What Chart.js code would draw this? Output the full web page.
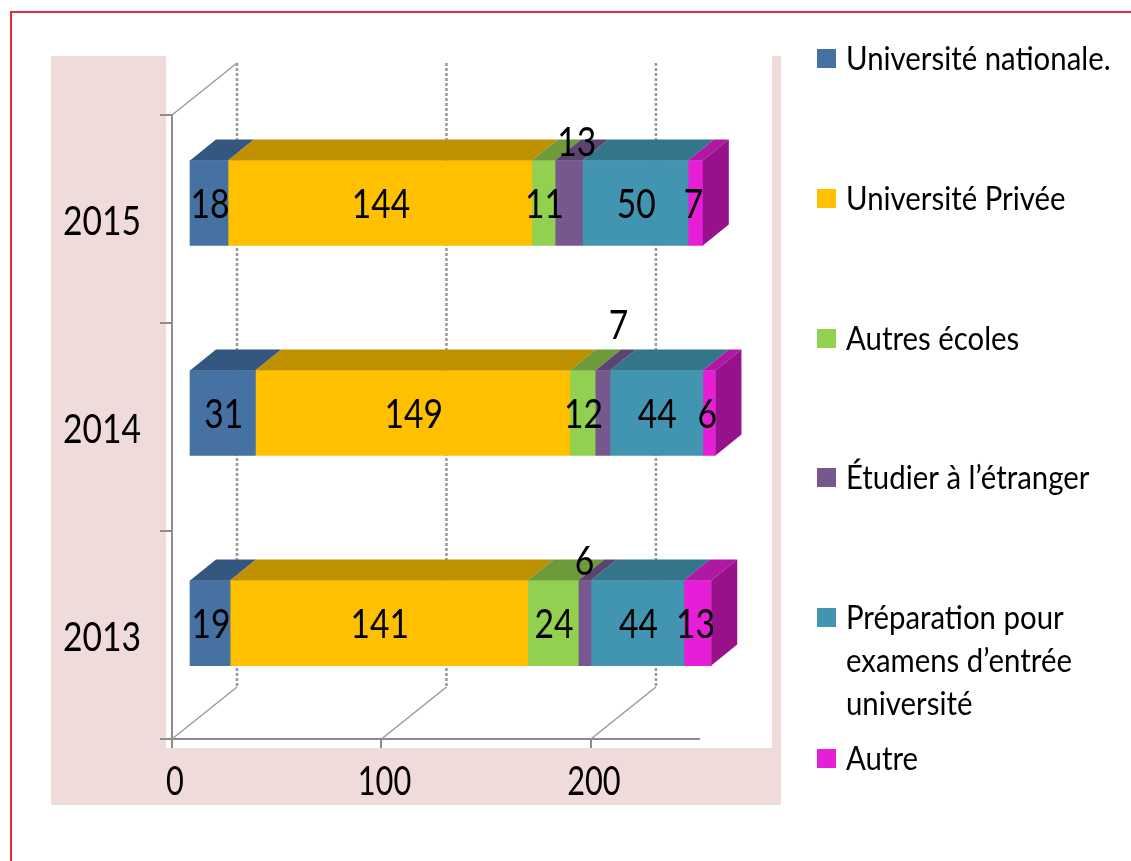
<!DOCTYPE html>
<html>
<head>
<meta charset="utf-8">
<script src="https://cdn.jsdelivr.net/npm/chart.js@4"></script>
<style>
    html, body { margin: 0; padding: 0; background: #fff; }
    #frame { position: absolute; left: 10px; top: 11px; width: 1121px; height: 850px; box-sizing: border-box; border-top: 2px solid #e2303a; border-left: 2px solid #e2303a; }
    #chart { position: absolute; left: 0; top: 0; }
</style>
</head>
<body>
<div id="frame"></div>
<canvas id="chart" width="1131" height="861"></canvas>
<script>
const categories = [2015, 2014, 2013];
const tickValues = [0, 100, 200];
const seriesNames = [
    ['Université nationale.'],
    ['Université Privée'],
    ['Autres écoles'],
    ['Étudier à l’étranger'],
    ['Préparation pour', 'examens d’entrée', 'université'],
    ['Autre']
];
const universiteNationale = [18, 31, 19];
const universitePrivee = [144, 149, 141];
const autresEcoles = [11, 12, 24];
const etudierEtranger = [13, 7, 6];
const preparation = [50, 44, 44];
const autre = [7, 6, 13];

const seriesValues = [universiteNationale, universitePrivee, autresEcoles, etudierEtranger, preparation, autre];
const frontColors = ['#4571a3', '#ffc000', '#92d050', '#76588f', '#4195b0', '#e61ed8'];
const topColors = ['#34577f', '#bf9000', '#6f9a3c', '#5c4470', '#33758a', '#ae18a3'];
const sideColor = '#96118a';

const FONT = 'Lato, "Open Sans", sans-serif';
const DEPTH_X = 26, DEPTH_Y = 21;   // profondeur des barres
const WALL_X = 65, WALL_Y = 52;     // profondeur du mur du fond

// decalage des etiquettes par serie / annee (les petites passent au dessus)
function labelNudge(datasetIndex, index) {
    if (datasetIndex === 3) return [[8, -60], [16, -87], [0, -61]][index];
    if (datasetIndex === 5) return [-2, 2];
    return [1, 2];
}

// texte un peu comprime en largeur, la police d'origine est etroite
function narrowText(ctx, text, x, y, squeeze) {
    ctx.save();
    ctx.translate(x, y);
    ctx.scale(squeeze, 1);
    ctx.fillText(text, 0, 0);
    ctx.restore();
}

const panelPlugin = {
    id: 'panel',
    beforeDraw(chart) {
        const ctx = chart.ctx;
        ctx.save();
        ctx.fillStyle = '#f0dbdb';
        ctx.fillRect(51, 56, 730, 749);
        ctx.fillStyle = '#fff';
        ctx.fillRect(166, 56, 606, 692);
        ctx.restore();
    }
};

const wallPlugin = {
    id: 'wall',
    beforeDatasetsDraw(chart) {
        const ctx = chart.ctx;
        const x = chart.scales.x;
        const top = chart.chartArea.top, bottom = chart.chartArea.bottom;
        ctx.save();
        ctx.strokeStyle = '#999';
        ctx.lineWidth = 1.5;
        // lignes du sol + coin haut gauche
        tickValues.forEach(v => {
            const px = x.getPixelForValue(v);
            ctx.beginPath();
            ctx.moveTo(px, bottom);
            ctx.lineTo(px + WALL_X, bottom - WALL_Y);
            ctx.stroke();
        });
        ctx.beginPath();
        ctx.moveTo(x.getPixelForValue(0), top);
        ctx.lineTo(x.getPixelForValue(0) + WALL_X, top - WALL_Y);
        ctx.stroke();
        // grille verticale du fond
        ctx.lineWidth = 2.5;
        ctx.setLineDash([3, 2]);
        tickValues.forEach(v => {
            const px = x.getPixelForValue(v) + WALL_X;
            ctx.beginPath();
            ctx.moveTo(px, top - WALL_Y);
            ctx.lineTo(px, bottom - WALL_Y);
            ctx.stroke();
        });
        ctx.restore();
    }
};

const depthPlugin = {
    id: 'depth',
    afterDatasetsDraw(chart) {
        const ctx = chart.ctx;
        ctx.save();
        chart.data.datasets.forEach((ds, i) => {
            chart.getDatasetMeta(i).data.forEach(bar => {
                const left = bar.base, right = bar.x;
                const t = bar.y - bar.height / 2, b = bar.y + bar.height / 2;
                ctx.fillStyle = topColors[i];
                ctx.beginPath();
                ctx.moveTo(left, t);
                ctx.lineTo(left + DEPTH_X, t - DEPTH_Y);
                ctx.lineTo(right + DEPTH_X, t - DEPTH_Y);
                ctx.lineTo(right, t);
                ctx.closePath();
                ctx.fill();
                if (i === chart.data.datasets.length - 1) {
                    ctx.fillStyle = sideColor;
                    ctx.beginPath();
                    ctx.moveTo(right, t);
                    ctx.lineTo(right + DEPTH_X, t - DEPTH_Y);
                    ctx.lineTo(right + DEPTH_X, b - DEPTH_Y);
                    ctx.lineTo(right, b);
                    ctx.closePath();
                    ctx.fill();
                }
            });
        });
        // etiquettes des valeurs
        ctx.fillStyle = '#000';
        ctx.font = '41px ' + FONT;
        ctx.textAlign = 'center';
        ctx.textBaseline = 'middle';
        chart.data.datasets.forEach((ds, i) => {
            chart.getDatasetMeta(i).data.forEach((bar, j) => {
                const nudge = labelNudge(i, j);
                narrowText(ctx, String(ds.data[j]), (bar.base + bar.x) / 2 + nudge[0], bar.y + nudge[1], 0.82);
            });
        });
        ctx.restore();
    }
};

const tickLabelPlugin = {
    id: 'tickLabels',
    afterDraw(chart) {
        const ctx = chart.ctx;
        const { x, y } = chart.scales;
        ctx.save();
        ctx.fillStyle = '#000';
        ctx.font = '41px ' + FONT;
        ctx.textBaseline = 'middle';
        ctx.textAlign = 'center';
        x.ticks.forEach((tick, i) => {
            narrowText(ctx, String(tick.value), x.getPixelForTick(i) + 3, 782, 0.75);
        });
        ctx.textAlign = 'right';
        y.ticks.forEach((tick, i) => {
            narrowText(ctx, tick.label, 141, y.getPixelForTick(i) + 3, 0.82);
        });
        ctx.restore();
    }
};

const sideLegendPlugin = {
    id: 'sideLegend',
    afterDraw(chart) {
        const ctx = chart.ctx;
        const rowY = [59, 199, 339, 478, 618, 759];
        ctx.save();
        ctx.font = '33px ' + FONT;
        ctx.textAlign = 'left';
        ctx.textBaseline = 'middle';
        seriesNames.forEach((lines, i) => {
            ctx.fillStyle = frontColors[i];
            ctx.fillRect(817, rowY[i] - 10, 19, 19);
            ctx.fillStyle = '#000';
            lines.forEach((line, k) => narrowText(ctx, line, 846, rowY[i] + k * 43, 0.89));
        });
        ctx.restore();
    }
};

new Chart(document.getElementById('chart').getContext('2d'), {
    type: 'bar',
    data: {
        labels: categories,
        datasets: seriesValues.map((values, i) => ({
            label: seriesNames[i].join(' '),
            data: values,
            backgroundColor: frontColors[i],
            xAxisID: 'xBar',
            yAxisID: 'yBar',
            barThickness: 85,
            clip: false
        }))
    },
    options: {
        indexAxis: 'y',
        responsive: false,
        animation: false,
        layout: { padding: { left: 0, top: 115, right: 432, bottom: 0 } },
        plugins: {
            legend: { display: false },
            tooltip: { enabled: false }
        },
        scales: {
            // axes visibles
            x: {
                type: 'linear',
                position: 'bottom',
                min: 0,
                max: 251.6,
                border: { color: '#8c8c8c', width: 2 },
                grid: { drawOnChartArea: false, color: '#8c8c8c', lineWidth: 2, tickLength: 9 },
                ticks: { stepSize: 100, includeBounds: false, display: false },
                afterFit(scale) { scale.height = 122; }
            },
            y: {
                type: 'category',
                position: 'left',
                offset: true,
                labels: categories.map(String),
                border: { color: '#8c8c8c', width: 2 },
                grid: { drawOnChartArea: false, offset: true, color: '#8c8c8c', lineWidth: 2, tickLength: 12 },
                ticks: { display: false },
                afterFit(scale) { scale.width = 172; }
            },
            // axes caches qui portent les barres, decales par rapport aux axes visibles
            xBar: { type: 'linear', display: false, stacked: true, min: -8.53, max: 241.2 },
            yBar: { type: 'linear', display: false, stacked: true, offset: false, min: 2012.448, max: 2015.419 }
        }
    },
    plugins: [panelPlugin, wallPlugin, depthPlugin, tickLabelPlugin, sideLegendPlugin]
});
</script>
</body>
</html>
